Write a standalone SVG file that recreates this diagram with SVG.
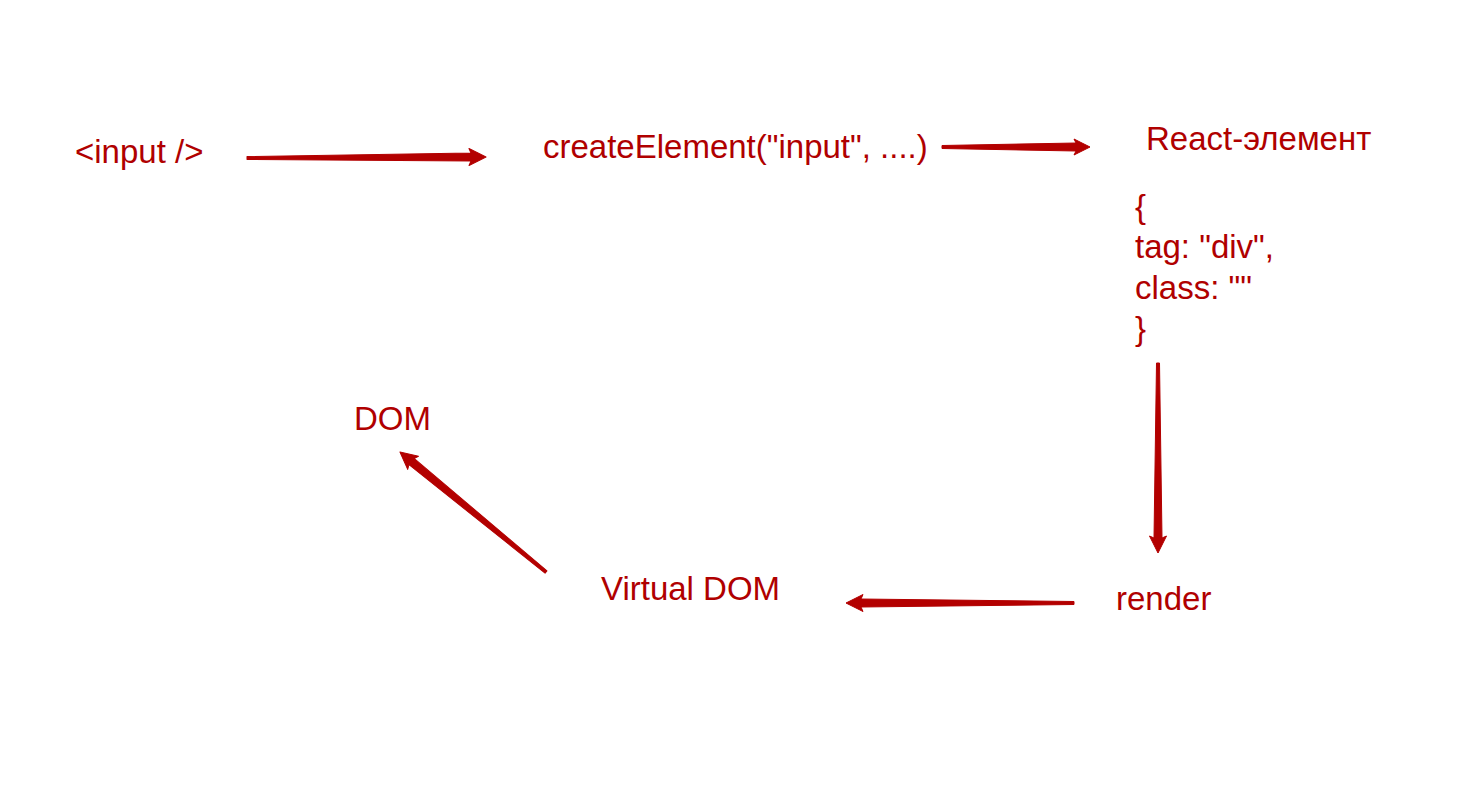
<svg xmlns="http://www.w3.org/2000/svg" width="1458" height="789" viewBox="0 0 1458 789">
<style>
text{font-family:"Liberation Sans",Arial,sans-serif;font-size:33px;fill:#b00000}
.arr{fill:#b30000;stroke:#b30000;stroke-width:1;stroke-linejoin:round}
</style>
<rect width="1458" height="789" fill="#ffffff"/>
<g id="connectors">
<path class="arr" transform="translate(247,158) rotate(-0.24)" d="M0,-1.5 L224,-4 L222,-8.5 L239,0 L222,8.5 L224,4 L0,1.5 Z"/>
<path class="arr" transform="translate(942,147)" d="M0,-1.5 L134,-4 L132,-8 L148,0 L132,8 L134,4 L0,1.5 Z"/>
<path class="arr" transform="translate(1158,363) rotate(90)" d="M0,-1.5 L175,-4 L173,-8.5 L190,0 L173,8.5 L175,4 L0,1.5 Z"/>
<path class="arr" transform="translate(1074,603) rotate(180)" d="M0,-1.5 L213,-4 L211,-8.5 L228,0 L211,8.5 L213,4 L0,1.5 Z"/>
<path class="arr" transform="translate(546,572) rotate(219.4)" d="M0,-1.5 L174,-4 L172,-8.5 L189,0 L172,8.5 L174,4 L0,1.5 Z"/>
</g>
<g id="node-input"><text x="75" y="162.5">&lt;input /&gt;</text></g>
<g id="node-createElement"><text x="543" y="158">createElement("input", ....)</text></g>
<g id="node-react-element">
<text x="1146" y="150">React-элемент</text>
<text x="1135" y="218">{</text>
<text x="1135" y="258">tag: "div",</text>
<text x="1135" y="299">class: ""</text>
<text x="1135" y="340">}</text>
</g>
<g id="node-render"><text x="1116" y="610">render</text></g>
<g id="node-virtual-dom"><text x="601" y="600">Virtual DOM</text></g>
<g id="node-dom"><text x="354" y="430">DOM</text></g>
</svg>
